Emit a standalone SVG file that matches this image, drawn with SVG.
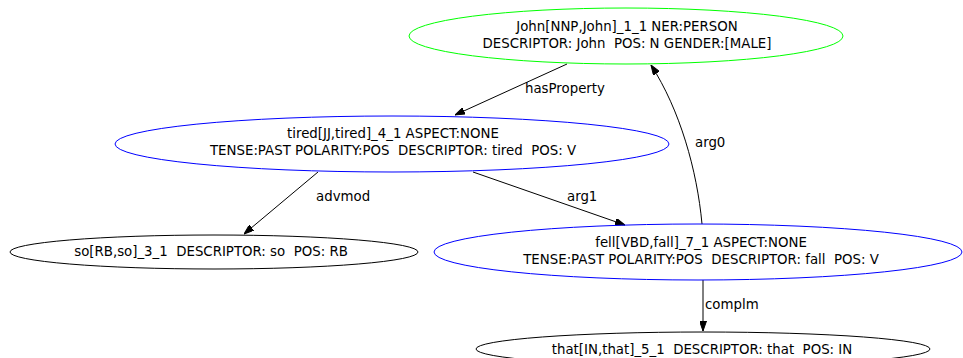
<svg xmlns="http://www.w3.org/2000/svg" width="963" height="358" viewBox="0 0 963 358">
<style>
text{font-family:"DejaVu Sans",sans-serif;font-size:13.33px;fill:#000;white-space:pre;text-anchor:middle}
.lbl{text-anchor:start}
ellipse{fill:none;stroke-width:1}
.g{stroke:#00ff00}.b{stroke:#0000ff}.k{stroke:#000}
.e{fill:none;stroke:#000;stroke-width:1}
</style>
<defs>
<marker id="ah" viewBox="0 0 10 7" refX="10" refY="3.5" markerWidth="10" markerHeight="7" markerUnits="userSpaceOnUse" orient="auto">
<path d="M0,0 L10,3.5 L0,7 Z" fill="#000" stroke="#000"/>
</marker>
</defs>
<rect width="963" height="358" fill="#fff"/>
<g id="edges">
<path class="e" d="M567,64 L455,115" marker-end="url(#ah)"/>
<text class="lbl" x="525" y="93">hasProperty</text>
<path class="e" d="M318,172 L244,234" marker-end="url(#ah)"/>
<text class="lbl" x="316" y="201">advmod</text>
<path class="e" d="M473,172 L625,225" marker-end="url(#ah)"/>
<text class="lbl" x="567" y="201">arg1</text>
<path class="e" d="M702,224 C697,170 680,110 651,65" marker-end="url(#ah)"/>
<text class="lbl" x="695" y="147">arg0</text>
<path class="e" d="M703,280 L703,331" marker-end="url(#ah)"/>
<text class="lbl" x="705" y="309">complm</text>
</g>
<g id="john">
<ellipse class="g" cx="626" cy="36" rx="217" ry="28"/>
<text x="627" y="31">John[NNP,John]_1_1 NER:PERSON</text>
<text x="627" y="48">DESCRIPTOR: John  POS: N GENDER:[MALE]</text>
</g>
<g id="tired">
<ellipse class="b" cx="392" cy="144" rx="277" ry="28"/>
<text x="393" y="138">tired[JJ,tired]_4_1 ASPECT:NONE</text>
<text x="393" y="155">TENSE:PAST POLARITY:POS  DESCRIPTOR: tired  POS: V</text>
</g>
<g id="so">
<ellipse class="k" cx="214" cy="252" rx="204" ry="17"/>
<text x="211" y="256">so[RB,so]_3_1  DESCRIPTOR: so  POS: RB</text>
</g>
<g id="fell">
<ellipse class="b" cx="698" cy="252" rx="264" ry="28"/>
<text x="701" y="247">fell[VBD,fall]_7_1 ASPECT:NONE</text>
<text x="701" y="264">TENSE:PAST POLARITY:POS  DESCRIPTOR: fall  POS: V</text>
</g>
<g id="that">
<ellipse class="k" cx="703" cy="349" rx="227" ry="17"/>
<text x="702" y="354">that[IN,that]_5_1  DESCRIPTOR: that  POS: IN</text>
</g>
</svg>
